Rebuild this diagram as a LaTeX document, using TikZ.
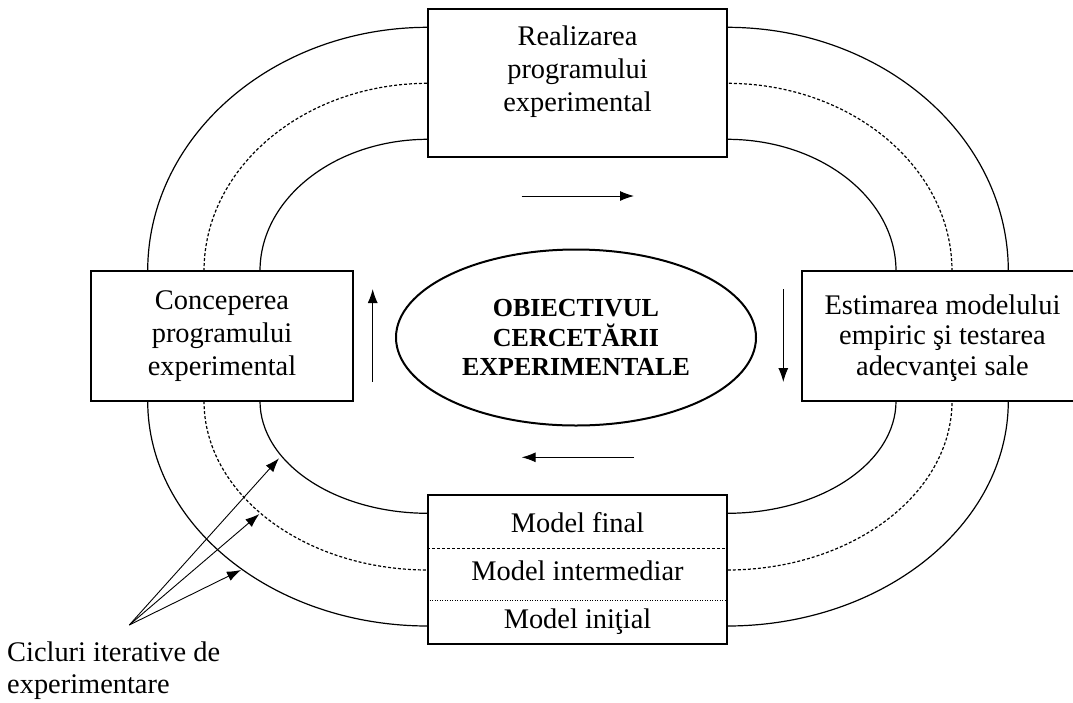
\documentclass[tikz,border=0pt]{standalone}
\usepackage{fontspec}
\setmainfont{Liberation Serif}
\usetikzlibrary{arrows.meta,shapes.geometric}

% Closed track: left x, right x, top y, bottom y; corners are quarter ellipses
% centred on the box corners (428,271), (727,271), (727,401), (428,401).
\tikzset{
  track/.style n args={4}{insert path={
    (#1,271) .. controls (#1,{271-0.5523*(271-#3)}) and ({428-0.5523*(428-#1)},#3) .. (428,#3)
    -- (727,#3) .. controls ({727+0.5523*(#2-727)},#3) and (#2,{271-0.5523*(271-#3)}) .. (#2,271)
    -- (#2,401) .. controls (#2,{401+0.5523*(#4-401)}) and ({727+0.5523*(#2-727)},#4) .. (727,#4)
    -- (428,#4) .. controls ({428-0.5523*(428-#1)},#4) and (#1,{401+0.5523*(#4-401)}) .. (#1,401)
    -- cycle}},
  box/.style={draw, line width=2pt, fill=white, inner sep=0pt},
  txt/.style={align=center, inner sep=0pt, font=\fontsize{28.4}{33}\selectfont},
  ring/.style={line width=1.2pt},
  ringdash/.style={line width=1.2pt, dash pattern=on 3pt off 2pt},
  flow/.style={line width=1pt, -{Latex[length=14pt,width=10pt]}},
  callout/.style={line width=0.9pt, -{Latex[length=14pt,width=10pt]}},
}

\begin{document}
\begin{tikzpicture}[x=1pt,y=-1pt]
\path[fill=white, use as bounding box] (0,0) rectangle (1073,702);

% three iteration tracks
\draw[ring, track={147.7}{1008.3}{27.3}{626}];
\draw[ringdash, track={204}{952}{83.3}{570}];
\draw[ring, track={260}{896}{139.3}{513.3}];

% stage boxes
\node[box, minimum width=299pt, minimum height=148pt] (realiz) at (577.5,83) {};
\node[txt] (realiztext) at (577.5,72) {Realizarea\\programului\\experimental};

\node[box, txt, minimum width=262pt, minimum height=130pt] (concep) at (222,336)
  {Conceperea\\programului\\experimental};

\node[box, minimum width=281pt, minimum height=130pt] (estim) at (942.5,336) {};
\node[align=center, inner sep=0pt, font=\fontsize{28.4}{30.5}\selectfont] (estimtext) at (942.5,338)
  {Estimarea modelului\\empiric şi testarea\\adecvanţei sale};

\node[box, minimum width=299pt, minimum height=149pt] (model) at (577.5,569.5) {};
\coordinate (sepA) at (0,548.3);
\coordinate (sepB) at (0,600.7);
\draw[line width=1pt, dash pattern=on 3pt off 2pt] (model.west |- sepA) -- (model.east |- sepA);
\draw[line width=1pt, dash pattern=on 1pt off 1.5pt] (model.west |- sepB) -- (model.east |- sepB);
\node[txt, anchor=base] (mfinal) at (577.5,532.7) {Model final};
\node[txt, anchor=base] (minter) at (577.5,580) {Model intermediar};
\node[txt, anchor=base] (minit) at (577.5,628.3) {Model iniţial};

% central objective
\node[draw, ellipse, line width=2pt, minimum width=360pt, minimum height=176pt, inner sep=0pt,
      align=center, font=\fontsize{26}{29.7}\selectfont\bfseries] (goal) at (576,337.5)
  {OBIECTIVUL\\CERCETĂRII\\EXPERIMENTALE};

% direction of the cycle
\coordinate (topS) at (521.7,196);   \coordinate (topE) at (634,196);
\coordinate (rgtS) at (783.3,289);   \coordinate (rgtE) at (783.3,382);
\coordinate (botS) at (634,457.3);   \coordinate (botE) at (521.7,457.3);
\coordinate (lftS) at (372.7,381.7); \coordinate (lftE) at (372.7,289);
\draw[flow] (topS) -- (topE);
\draw[flow] (rgtS) -- (rgtE);
\draw[flow] (botS) -- (botE);
\draw[flow] (lftS) -- (lftE);

% callout
\node[inner sep=0pt, align=left, anchor=west, font=\fontsize{28.4}{31.3}\selectfont] (cycles) at (7,670.7)
  {Cicluri iterative de\\experimentare};
\coordinate (src) at (129.3,625);
\coordinate (hitIn) at (279,458.3);
\coordinate (hitMid) at (259.3,514);
\coordinate (hitOut) at (241,570);
\draw[callout] (src) -- (hitIn);
\draw[callout] (src) -- (hitMid);
\draw[callout] (src) -- (hitOut);
\end{tikzpicture}
\end{document}
